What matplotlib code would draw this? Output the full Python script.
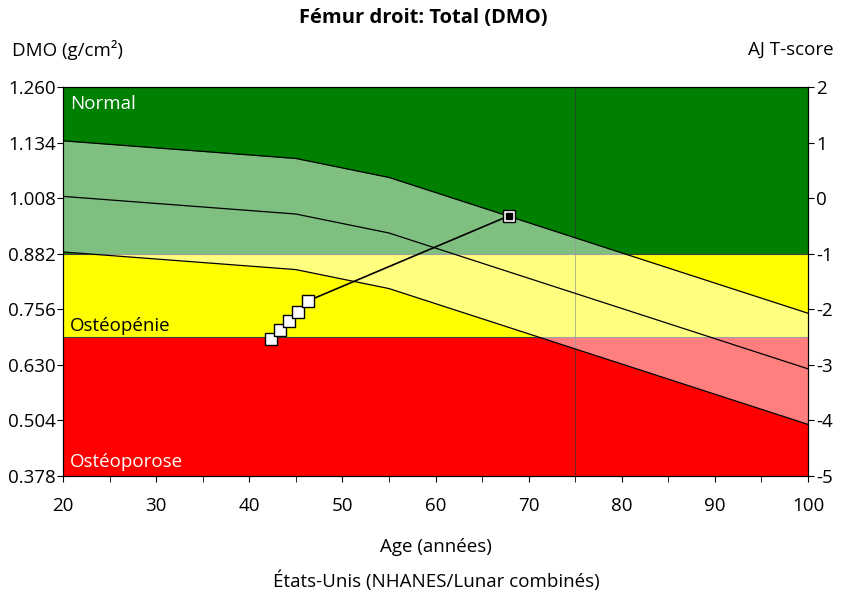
import matplotlib.pyplot as plt
import numpy as np

plt.rcParams['font.family'] = ['Open Sans', 'DejaVu Sans']

# Courbe de référence (moyenne ± 1 ET)
ages_ref = [20, 45, 55, 100]
dmo_moy = [1.012, 0.972, 0.929, 0.621]
et = 0.126

# Mesures du patient
ages_pat = [42.3, 43.3, 44.3, 45.2, 46.3, 67.9]
dmo_pat = [0.689, 0.709, 0.729, 0.750, 0.775, 0.968]

# Zones
seuil_normal = 0.882
seuil_osteo = 0.693
ymin, ymax = 0.378, 1.260
yticks = [0.378, 0.504, 0.630, 0.756, 0.882, 1.008, 1.134, 1.260]
tscores = [-5, -4, -3, -2, -1, 0, 1, 2]

fs = 13.5

fig = plt.figure(figsize=(8.46, 5.97), dpi=100)
ax = fig.add_axes([63/846, 1-476/597, 745/846, 389/597])

ax.axhspan(seuil_normal, ymax, color='#008000', lw=0, zorder=0)
ax.axhspan(seuil_osteo, seuil_normal, color='#FFFF00', lw=0, zorder=0)
ax.axhspan(ymin, seuil_osteo, color='#FF0000', lw=0, zorder=0)
ax.axhline(seuil_normal, color='#404040', lw=0.8, zorder=1)
ax.axhline(seuil_osteo, color='#404040', lw=0.8, zorder=1)
ax.axvline(75, color='#303030', lw=0.6, alpha=0.8, zorder=1)

moy = np.array(dmo_moy)
ax.fill_between(ages_ref, moy - et, moy + et, color='white', alpha=0.5, lw=0, zorder=2)
for d in (-et, 0, et):
    ax.plot(ages_ref, moy + d, color='black', lw=0.9, zorder=3)

ax.plot(ages_pat, dmo_pat, color='black', lw=1.2, zorder=4)
ax.plot(ages_pat, dmo_pat, 's', ms=8, mfc='white', mec='black', mew=1.0, zorder=5)
ax.plot(ages_pat[-1], dmo_pat[-1], 's', ms=4, color='black', zorder=6)

ax.text(20.75, 1.2215, 'Normal', color='white', fontsize=fs, va='center')
ax.text(20.75, 0.718, 'Ostéopénie', color='black', fontsize=fs, va='center')
ax.text(20.75, 0.410, 'Ostéoporose', color='white', fontsize=fs, va='center')

ax.set_xlim(20, 100)
ax.set_ylim(ymin, ymax)
ax.set_xticks(range(20, 101, 10))
ax.set_xticks(range(25, 100, 10), minor=True)
ax.set_yticks(yticks)
ax.set_yticklabels(['%.3f' % v for v in yticks])
ax.tick_params(labelsize=fs, length=4, pad=1)
ax.tick_params(axis='x', pad=11)
ax.tick_params(which='minor', length=4)
ax.set_xlabel('Age (années)', fontsize=fs, labelpad=17)

ax2 = ax.twinx()
ax2.set_ylim(ymin, ymax)
ax2.set_yticks(yticks)
ax2.set_yticklabels([str(t) for t in tscores])
ax2.tick_params(labelsize=fs, length=4, pad=2)

fig.text(0.5, 1-18/597, 'Fémur droit: Total (DMO)', ha='center', va='center',
         fontsize=14.5, fontweight='bold')
fig.text(12/846, 1-50/597, 'DMO (g/cm²)', ha='left', va='center', fontsize=fs)
fig.text(834/846, 1-50/597, 'AJ T-score', ha='right', va='center', fontsize=fs)
fig.text(436/846, 1-581/597, 'États-Unis (NHANES/Lunar combinés)', ha='center',
         va='center', fontsize=fs)

fig.savefig('out.png', dpi=100)
